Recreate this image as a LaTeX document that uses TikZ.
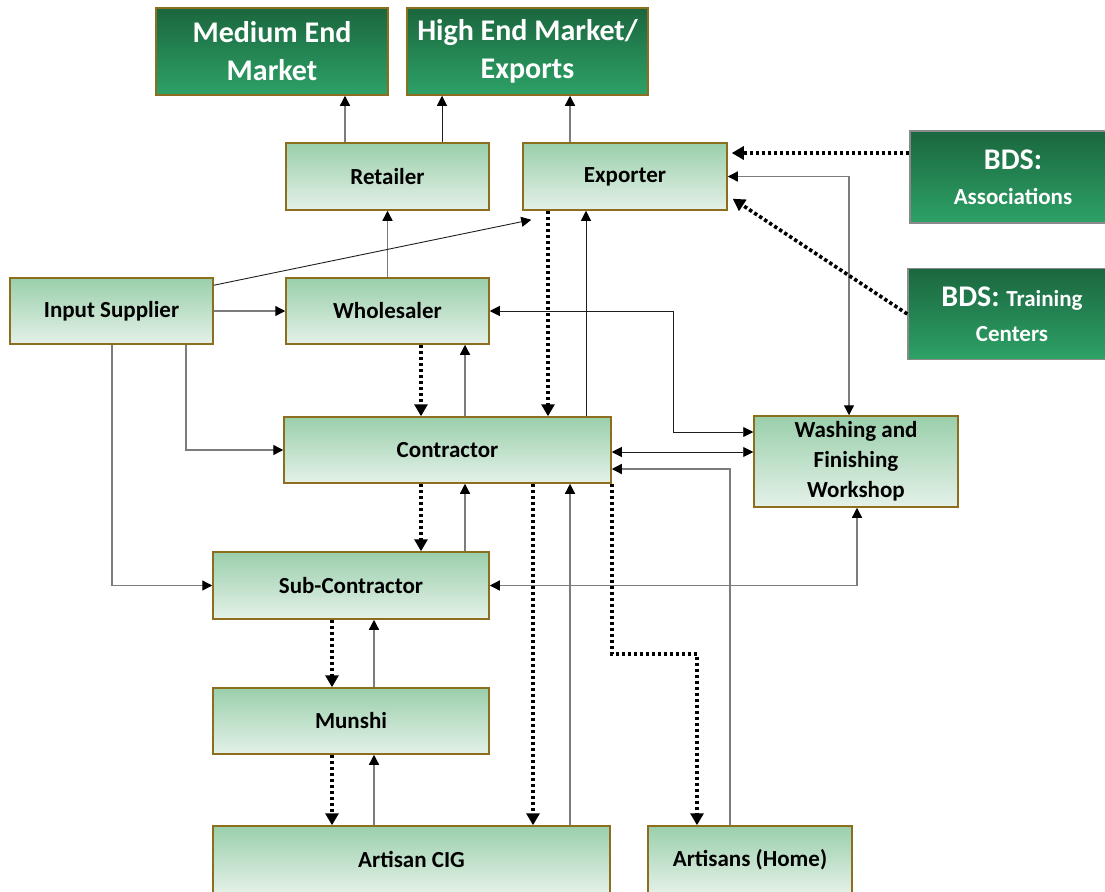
\documentclass[tikz,border=0pt]{standalone}
\usepackage{fontspec}
\setmainfont{Carlito}
\usetikzlibrary{arrows.meta}
\definecolor{lighttop}{HTML}{9ACFAB}
\definecolor{lightbot}{HTML}{E4F1E8}
\definecolor{darktop}{HTML}{1B663E}
\definecolor{darkbot}{HTML}{2DA267}
\definecolor{goldrim}{HTML}{8C6E1E}
\definecolor{grayrim}{HTML}{8A8A8A}
\definecolor{linegray}{HTML}{7C7C7C}
\definecolor{lineblack}{HTML}{1E1E1E}
\begin{document}
\begin{tikzpicture}[x=1pt,y=-1pt,
  lightbox/.style={draw=goldrim, line width=1.5pt, top color=lighttop, bottom color=lightbot,
    inner sep=0pt, align=center, font=\bfseries\fontsize{23}{30}\selectfont, text=black},
  darkbox/.style={draw=goldrim, line width=1.5pt, top color=darktop, bottom color=darkbot,
    inner sep=0pt, align=center, font=\bfseries\fontsize{30}{38}\selectfont, text=white},
  bdsbox/.style={darkbox, draw=grayrim},
  tip/.tip={Triangle[length=10pt,width=10pt,color=black]},
  bigtip/.tip={Triangle[length=12pt,width=13pt,color=black]},
  garr/.style={draw=linegray, line width=1.3pt, -tip},
  barr/.style={draw=lineblack, line width=0.9pt, -tip},
  gboth/.style={draw=linegray, line width=1.3pt, tip-tip},
  bboth/.style={draw=lineblack, line width=0.9pt, tip-tip},
  darr/.style={draw=black, line width=3.6pt, dash pattern=on 3.4pt off 2.6pt, -bigtip}
]
\useasboundingbox (0,0) rectangle (1105,891);

% markets at the top
\node[darkbox, minimum width=232pt, minimum height=87pt] (med) at (272,51.5) {Medium End\\Market};
\node[darkbox, minimum width=241pt, minimum height=87pt] (high) at (527.5,51.5) {High End Market/\\Exports};

% business development services
\node[bdsbox, minimum width=206pt, minimum height=92pt] (bdsA) at (1013,177)
  {BDS:\\[-3pt]{\fontsize{23}{27}\selectfont Associations}};
\node[bdsbox, minimum width=208pt, minimum height=91pt] (bdsT) at (1012,314)
  {BDS: {\fontsize{23}{27}\selectfont Training}\\[-3pt]{\fontsize{23}{27}\selectfont Centers}};

% value chain actors
\node[lightbox, minimum width=203pt, minimum height=67pt] (retailer) at (387.5,176.5) {Retailer};
\node[lightbox, minimum width=204pt, minimum height=67pt] (exporter) at (625,176.5) {Exporter};
\node[lightbox, minimum width=203pt, minimum height=66pt] (input) at (111.5,311) {Input Supplier};
\node[lightbox, minimum width=203pt, minimum height=66pt] (wholesaler) at (387.5,311) {Wholesaler};
\node[lightbox, minimum width=327pt, minimum height=66pt] (contractor) at (447.5,450) {Contractor};
\node[lightbox, minimum width=204pt, minimum height=91pt] (washing) at (856,461.5) {Washing and\\Finishing\\Workshop};
\node[lightbox, minimum width=276pt, minimum height=67pt] (sub) at (351,585.5) {Sub-Contractor};
\node[lightbox, minimum width=276pt, minimum height=66pt] (munshi) at (351,721) {Munshi};
\node[lightbox, minimum width=397pt, minimum height=67pt] (cig) at (411.5,859.5) {Artisan CIG};
\node[lightbox, minimum width=204pt, minimum height=67pt] (home) at (750,859.5) {Artisans (Home)};

% sales towards the markets
\draw[garr] (retailer.north -| 345,0) -- (med.south -| 345,0);
\draw[barr] (retailer.north -| 442,0) -- (high.south -| 442,0);
\draw[garr] (exporter.north -| 570,0) -- (high.south -| 570,0);
\draw[garr] (wholesaler.north) -- (retailer.south);

% input supplies
\draw[barr] ([yshift=-8pt]input.north east) -- ([xshift=9pt,yshift=-9pt]exporter.south west);
\draw[garr] (input.east) -- (wholesaler.west);
\draw[garr] (input.south -| 186,0) |- (contractor.west);
\draw[garr] (input.south -| 112,0) |- (sub.west);

% orders (dotted) and products (solid) between the tiers
\draw[darr] (wholesaler.south -| 421,0) -- (contractor.north -| 421,0);
\draw[garr] (contractor.north -| 465,0) -- (wholesaler.south -| 465,0);
\draw[darr] (exporter.south -| 548,0) -- (contractor.north -| 548,0);
\draw[barr] (contractor.north -| 586,0) -- (exporter.south -| 586,0);
\draw[darr] (contractor.south -| 421,0) -- (sub.north -| 421,0);
\draw[garr] (sub.north -| 465,0) -- (contractor.south -| 465,0);
\draw[darr] (contractor.south -| 533,0) -- (cig.north -| 533,0);
\draw[garr] (cig.north -| 570,0) -- (contractor.south -| 570,0);
\draw[darr] (contractor.south east) |- (697,654) -- (home.north -| 697,0);
\draw[darr] (sub.south -| 332,0) -- (munshi.north -| 332,0);
\draw[garr] (munshi.north -| 374,0) -- (sub.south -| 374,0);
\draw[darr] (munshi.south -| 332,0) -- (cig.north -| 332,0);
\draw[garr] (cig.north -| 374,0) -- (munshi.south -| 374,0);

% washing and finishing links
\draw[bboth] (wholesaler.east) -| (673,432) -- (washing.west |- 0,432);
\draw[gboth] (exporter.east) -| (washing.north -| 849,0);
\draw[bboth] (contractor.east |- 0,452) -- (washing.west |- 0,452);
\draw[garr] (home.north -| 730,0) |- (contractor.east |- 0,469);
\draw[gboth] (washing.south -| 857,0) |- (sub.east);

% support services
\draw[darr] (bdsA.west |- 0,153) -- ([xshift=4pt]exporter.east |- 0,153);
\draw[darr] (bdsT.west) -- ([xshift=5pt,yshift=12pt]exporter.south east);
\end{tikzpicture}
\end{document}
